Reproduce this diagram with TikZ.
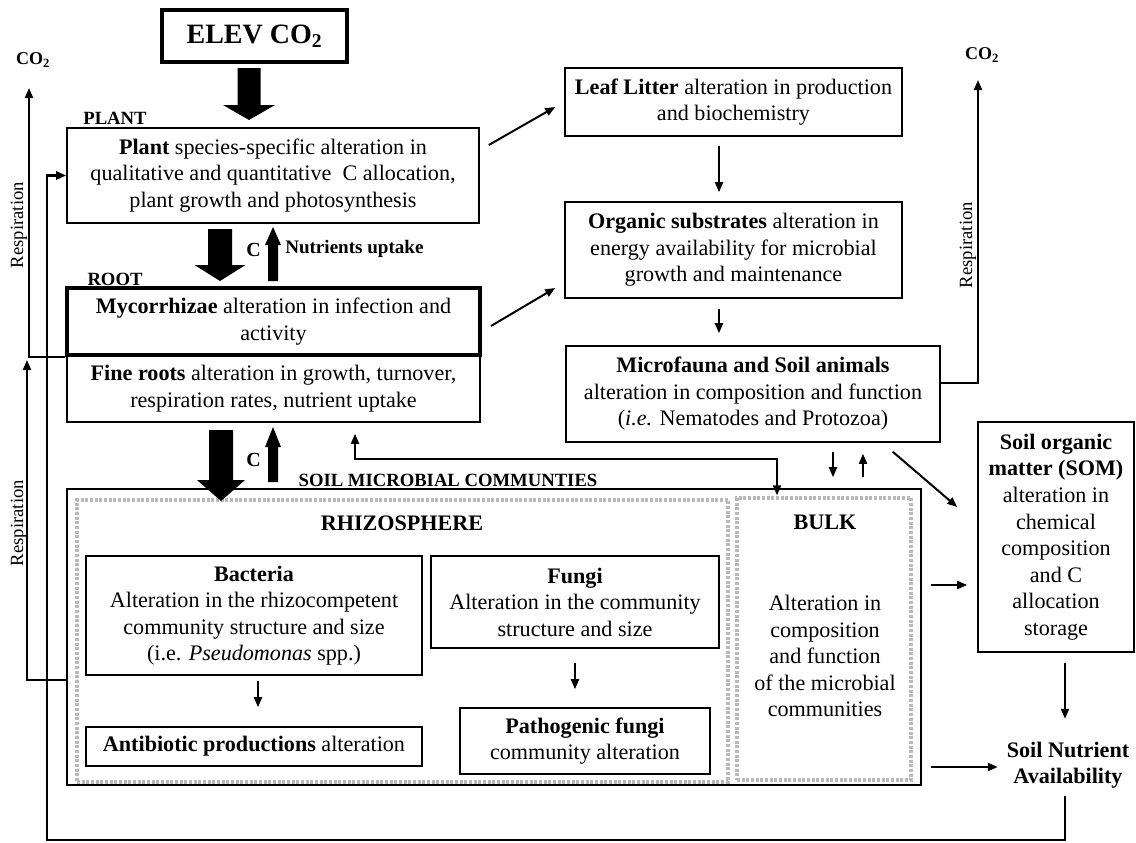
\documentclass[tikz,border=0pt]{standalone}
\usepackage{fontspec}
\setmainfont{Liberation Serif}
\usetikzlibrary{arrows.meta,calc}
\newcommand{\bodyfont}{\fontsize{16.6}{19.9}\selectfont}
\newcommand{\lblfont}{\fontsize{14}{16}\selectfont\bfseries}
\newcommand{\FatArrow}[6]{\fill (#1-#4,#2) -- (#1+#4,#2) -- (#1+#4,#3) -- (#1+#5,#3) -- (#1,#6) -- (#1-#5,#3) -- (#1-#4,#3) -- cycle;}
\tikzset{
  sz/.style 2 args={minimum width=#1*0.75pt, minimum height=#2*0.75pt},
  box/.style={draw, line width=1.2pt, inner sep=0pt, align=center, font=\bodyfont},
  thickbox/.style={box, line width=3pt},
  dotbox/.style={draw=gray!55, line width=2.5pt, dash pattern=on 2.2pt off 1.3pt, inner sep=0pt},
  txt/.style={inner sep=0pt, align=center, font=\bodyfont},
  lbl/.style={inner sep=0pt, font=\lblfont},
  resp/.style={inner sep=0pt, rotate=90, font=\fontsize{14}{16}\selectfont},
  arr/.style={line width=1.5pt, -{Triangle[length=7.5pt,width=6pt]}},
  darr/.style={line width=1.5pt, {Triangle[length=7.5pt,width=6pt]}-{Triangle[length=7.5pt,width=6pt]}}
}
\begin{document}
\begin{tikzpicture}[x=0.75pt,y=-0.75pt]
\useasboundingbox (0,0) rectangle (1136,843);

% top
\node[thickbox, sz={185}{52}, font=\fontsize{21}{25}\selectfont\bfseries] (elev) at (254.5,36) {ELEV CO\textsubscript{2}};
\node[lbl] (plantlbl) at (115,118) {PLANT};
\node[box, sz={412}{95}] (plant) at (273,175.5) {\textbf{Plant} species-specific alteration in\\ qualitative and quantitative\ \ C allocation,\\ plant growth and photosynthesis};
\node[lbl] (rootlbl) at (115,279) {ROOT};
\node[box, sz={413}{67}] (fine) at (273.5,388.5) {\textbf{Fine roots} alteration in growth, turnover,\\ respiration rates, nutrient uptake};
\node[thickbox, sz={413}{67}] (myco) at (273.5,321.5) {\textbf{Mycorrhizae} alteration in infection and\\ activity};

\node[lbl, font=\fontsize{15}{17}\selectfont\bfseries] (c1) at (253.5,250) {C};
\node[lbl, font=\fontsize{14.3}{17}\selectfont\bfseries, anchor=west] (nut) at (285,249) {Nutrients uptake};
\node[lbl, font=\fontsize{15}{17}\selectfont\bfseries] (c2) at (253.5,460) {C};

% right column
\node[box, sz={337}{68}] (leaf) at (733.5,102) {\textbf{Leaf Litter} alteration in production\\ and biochemistry};
\node[box, sz={337}{96}] (org) at (733.5,250) {\textbf{Organic substrates} alteration in\\ energy availability for microbial\\ growth and maintenance};
\node[box, sz={374}{96}] (micro) at (753,394) {\textbf{Microfauna and Soil animals}\\ alteration in composition and function\\ (\textit{i.e.} Nematodes and Protozoa)};
\node[box, sz={156}{230}] (som) at (1056,537) {\textbf{Soil organic}\\ \textbf{matter (SOM)}\\ alteration in\\ chemical\\ composition\\ and C\\ allocation\\ storage};
\node[txt, font=\bodyfont\bfseries] (nutr) at (1068,765) {Soil Nutrient\\ Availability};

% soil microbial communities
\node[lbl] (soillbl) at (448,480) {SOIL MICROBIAL COMMUNTIES};
\node[box, sz={854}{296}] (soil) at (494,637) {};
\node[dotbox, sz={651}{282}] (rhizo) at (402.5,641) {};
\node[dotbox, sz={174}{282}] (bulk) at (824,639) {};
\node[txt, font=\bodyfont\bfseries] (rhizolbl) at (402,523) {RHIZOSPHERE};
\node[txt, font=\bodyfont\bfseries] (bulklbl) at (825,522) {BULK};
\node[txt] (bulktxt) at (825,656) {Alteration in\\ composition\\ and function\\ of the microbial\\ communities};
\node[box, sz={336}{119}] (bact) at (254,615.5) {\textbf{Bacteria}\\ Alteration in the rhizocompetent\\ community structure and size\\ (i.e. \textit{Pseudomonas} spp.)};
\node[box, sz={336}{39}] (anti) at (254,746.5) {\textbf{Antibiotic productions} alteration};
\node[box, sz={288}{92}] (fungi) at (575,602) {\textbf{Fungi}\\ Alteration in the community\\ structure and size};
\node[box, sz={250}{66}] (patho) at (585,741) {\textbf{Pathogenic fungi}\\ community alteration};

% CO2 / respiration labels
\node[lbl, font=\fontsize{13.5}{16}\selectfont\bfseries] (co2l) at (33,60) {CO\textsubscript{2}};
\node[lbl, font=\fontsize{13.5}{16}\selectfont\bfseries] (co2r) at (982,55) {CO\textsubscript{2}};
\coordinate (co2ltip) at (29,88);
\coordinate (co2rtip) at (978,80);
\node[resp] (resp1) at (19,225) {Respiration};
\node[resp] (resp2) at (19,523) {Respiration};
\node[resp] (resp3) at (968,245) {Respiration};

% fat arrows
\FatArrow{249}{68}{105}{11.5}{26}{120}
\FatArrow{220}{229}{265}{12}{25.5}{281}
\FatArrow{221}{430}{480}{12}{24}{501}
\FatArrow{273}{281}{245}{5}{8}{227}
\FatArrow{273}{482}{447}{5}{8}{427}

% thin arrows
\draw[arr] ($(plant.east)+(9,-30.5)$) -- ($(leaf.west)+(-9,5)$);
\draw[arr] ($(leaf.south)+(-14.5,9)$) -- ($(org.north)+(-14.5,-9)$);
\draw[arr] ($(myco.east)+(9,4.5)$) -- ($(org.west)+(-9,38)$);
\draw[arr] ($(org.south)+(-14.5,10)$) -- ($(micro.north)+(-34,-12)$);
\draw[arr] ($(micro.south)+(80,9)$) -- ($(soil.north)+(339,-11)$);
\draw[arr] ($(soil.north)+(369,-11)$) -- ($(micro.south)+(110,11)$);
\draw[arr] ($(micro.south east)+(-48,9)$) -- ($(som.west)+(-20,-30)$);
\draw[arr] ($(soil.east)+(9,-52)$) -- ($(som.west)+(-10,48)$);
\draw[arr] ($(som.south)+(9,10)$) -- ($(som.south)+(9,66)$);
\draw[arr] ($(soil.east)+(9,130)$) -- ($(soil.east)+(76,130)$);
\draw[arr] ($(bact.south)+(4,5)$) -- ($(anti.north)+(4,-19)$);
\draw[arr] ($(fungi.south)+(0,14)$) -- ($(patho.north)+(-10,-18)$);
\draw[darr] ($(fine.south)+(81.5,11)$) |- ($(bulk.north)+(-47,-37)$) -- ($(bulk.north)+(-47,-1)$);

% respiration lines
\draw[arr] (myco.south west) -| (co2ltip);
\draw[arr] ($(soil.west)+(0,43)$) -| ($(myco.south west)+(-38,3)$);
\draw[arr] ($(micro.east)+(0,-11)$) -| (co2rtip);

% nutrient loop
\coordinate (loopbl) at (47,840);
\draw[arr, line width=1.8pt] ($(som.south)+(9,143)$) |- (loopbl) |- (plant.west);
\end{tikzpicture}
\end{document}
